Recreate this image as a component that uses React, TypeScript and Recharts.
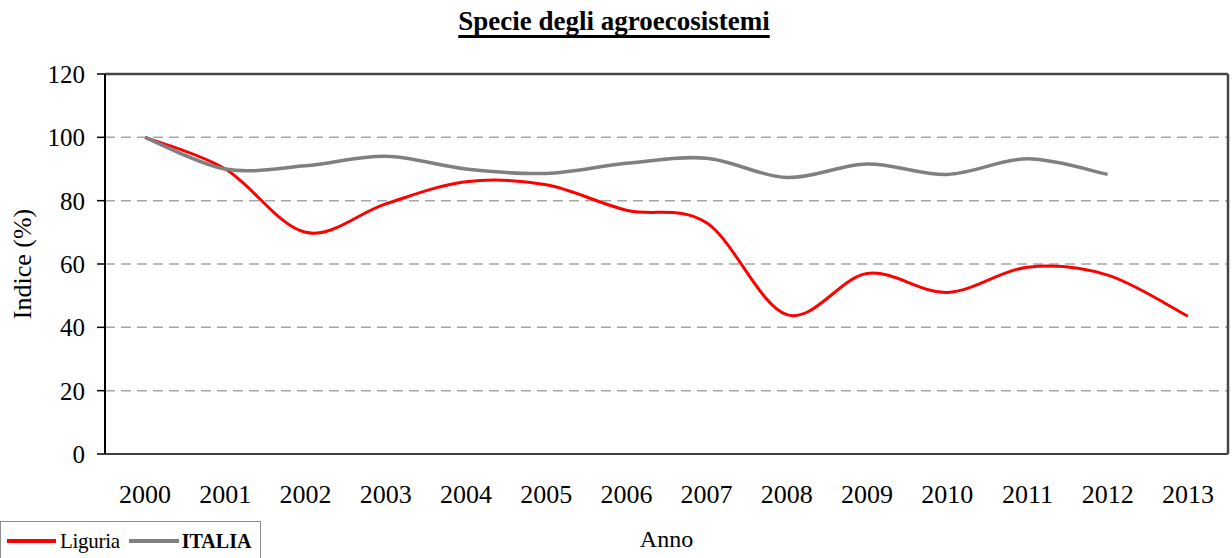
import React from "react";
import {
  LineChart,
  Line,
  XAxis,
  YAxis,
  CartesianGrid,
  Legend
} from "recharts";

const years = [
  "2000", "2001", "2002", "2003", "2004", "2005", "2006",
  "2007", "2008", "2009", "2010", "2011", "2012", "2013"
];
const liguria = [100, 90, 70, 79, 86, 85, 77, 73, 44, 57, 51, 59, 56.5, 43.5];
const italia = [100, 90, 91, 94, 90, 88.6, 91.8, 93.4, 87.3, 91.6, 88.3, 93.2, 88.3, null];
const yTicks = [0, 20, 40, 60, 80, 100, 120];

const data = years.map((year, i) => ({
  idx: i,
  year,
  liguria: liguria[i],
  italia: italia[i]
}));

const labelTicks = years.map((_, i) => i);
const edgeTicks = [...years.map((_, i) => i - 0.5), years.length - 0.5];
const xDomain = [-0.5, years.length - 0.5];

const FONT = "'Liberation Serif', 'Times New Roman', serif";

// Excel style smoothing (Catmull-Rom as bezier)
function excelCurve(context: any) {
  let pts: number[][] = [];
  return {
    areaStart() {},
    areaEnd() {},
    lineStart() {
      pts = [];
    },
    point(x: number, y: number) {
      pts.push([+x, +y]);
    },
    lineEnd() {
      if (!pts.length) return;
      context.moveTo(pts[0][0], pts[0][1]);
      for (let i = 0; i < pts.length - 1; i++) {
        const p0 = pts[i - 1] || pts[i];
        const p1 = pts[i];
        const p2 = pts[i + 1];
        const p3 = pts[i + 2] || p2;
        context.bezierCurveTo(
          p1[0] + (p2[0] - p0[0]) / 6,
          p1[1] + (p2[1] - p0[1]) / 6,
          p2[0] - (p3[0] - p1[0]) / 6,
          p2[1] - (p3[1] - p1[1]) / 6,
          p2[0],
          p2[1]
        );
      }
    }
  };
}

function LegendBox() {
  return (
    <div
      style={{
        width: 259,
        height: 38,
        border: "1px solid #8c8c8c",
        display: "flex",
        alignItems: "center",
        fontFamily: FONT,
        fontSize: 21,
        color: "#000",
        boxSizing: "content-box"
      }}
    >
      <span style={{ width: 49, height: 4, background: "#ff0000", marginLeft: 6 }} />
      <span style={{ marginLeft: 4, letterSpacing: -0.3 }}>Liguria</span>
      <span style={{ width: 50, height: 4, background: "#808080", marginLeft: 9 }} />
      <span style={{ marginLeft: 3, fontWeight: "bold", fontSize: 20 }}>ITALIA</span>
    </div>
  );
}

export default function App() {
  return (
    <div style={{ position: "absolute", left: 0, top: 0, width: 1232, height: 558, overflow: "hidden" }}>
      <div
        style={{
          position: "absolute",
          top: 6,
          left: 0,
          width: 1232,
          textAlign: "center",
          fontFamily: FONT,
          fontWeight: "bold",
          fontSize: 27,
          color: "#000"
        }}
      >
        <span
          style={{
            textDecoration: "underline",
            textDecorationThickness: 3,
            textUnderlineOffset: 5,
            textDecorationSkipInk: "none",
            paddingRight: 4
          }}
        >
          Specie degli agroecosistemi
        </span>
      </div>
      <LineChart
        width={1232}
        height={558}
        data={data}
        margin={{ top: 73, right: 3, left: 0, bottom: 0 }}
      >
        <CartesianGrid
          horizontal
          vertical={false}
          stroke="#a6a6a6"
          strokeWidth={1.5}
          strokeDasharray="10 6"
          xAxisId="main"
          yAxisId="left"
        />
        <XAxis
          xAxisId="edges"
          dataKey="idx"
          type="number"
          domain={xDomain}
          ticks={edgeTicks}
          tick={false}
          tickSize={10}
          tickLine={{ stroke: "#404040", strokeWidth: 1.5 }}
          axisLine={false}
          height={0}
        />
        <XAxis
          xAxisId="main"
          dataKey="idx"
          type="number"
          domain={xDomain}
          ticks={labelTicks}
          interval={0}
          tickFormatter={(v: number) => years[v]}
          tickLine={false}
          tickSize={10}
          tickMargin={21}
          axisLine={{ stroke: "#404040", strokeWidth: 2 }}
          tick={{ fontFamily: FONT, fontSize: 26, fill: "#000" }}
          height={64}
          label={{
            value: "Anno",
            position: "bottom",
            offset: 12,
            style: { fontFamily: FONT, fontSize: 24, fill: "#000" }
          }}
        />
        <XAxis
          xAxisId="top"
          orientation="top"
          dataKey="idx"
          type="number"
          domain={xDomain}
          tick={false}
          tickLine={false}
          axisLine={{ stroke: "#454545", strokeWidth: 2.5 }}
          height={1}
        />
        <YAxis
          yAxisId="left"
          domain={[0, 120]}
          ticks={yTicks}
          width={105}
          tickSize={8}
          tickMargin={12}
          tickLine={{ stroke: "#000", strokeWidth: 1.5 }}
          axisLine={{ stroke: "#000", strokeWidth: 2 }}
          tick={{ fontFamily: FONT, fontSize: 25, fill: "#000" }}
          label={{
            value: "Indice (%)",
            angle: -90,
            position: "insideLeft",
            offset: 22,
            style: { fontFamily: FONT, fontSize: 26, fill: "#000", textAnchor: "middle" }
          }}
        />
        <YAxis
          yAxisId="right"
          orientation="right"
          domain={[0, 120]}
          tick={false}
          tickLine={false}
          axisLine={{ stroke: "#454545", strokeWidth: 2.5 }}
          width={1}
        />
        <Line
          xAxisId="main"
          yAxisId="left"
          dataKey="liguria"
          name="Liguria"
          type={excelCurve as any}
          stroke="#ff0000"
          strokeWidth={3}
          dot={false}
          isAnimationActive={false}
        />
        <Line
          xAxisId="main"
          yAxisId="left"
          dataKey="italia"
          name="ITALIA"
          type={excelCurve as any}
          stroke="#808080"
          strokeWidth={3.5}
          dot={false}
          isAnimationActive={false}
        />
        <Legend
          verticalAlign="bottom"
          align="left"
          content={() => <LegendBox />}
          wrapperStyle={{ left: 0, bottom: -3, width: 261, height: 40 }}
        />
      </LineChart>
    </div>
  );
}
